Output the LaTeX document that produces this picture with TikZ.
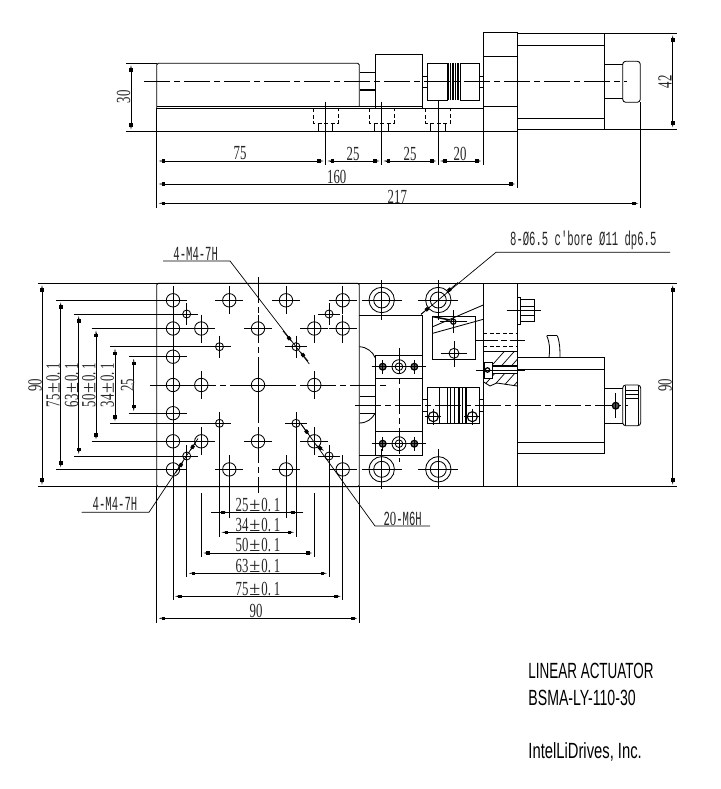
\documentclass[tikz,border=0pt]{standalone}
\usepackage{fontspec}
\usetikzlibrary{arrows.meta}
\newfontfamily\cadfont[FakeStretch=0.53]{Liberation Mono}
\newfontfamily\cadnum[FakeStretch=0.64]{Liberation Serif}
\newfontfamily\cadsym{Liberation Serif}
\newfontfamily\titlefont[FakeStretch=0.6]{Liberation Sans}
\newcommand\pmwide{{\cadsym\kern1pt ±\kern1pt}}
\newcommand\tol[1]{#1\pmwide 0.\kern3pt 1}
\newcommand\zerodigit{{\cadnum 0}}
\tikzset{
  base/.style={line width=0.85pt,black},
  thin line/.style={line width=0.7pt},
  thick bar/.style={line width=1.5pt},
  centre/.style={line width=0.7pt,dash pattern=on 26pt off 4pt on 6pt off 4pt},
  hidden/.style={line width=0.7pt,dash pattern=on 4pt off 2.5pt},
  dimtip/.tip={Rectangle[length=3.4pt,width=3.4pt,sep=0pt]Triangle[length=5pt,width=1pt]},
  dim/.style={line width=0.75pt,{dimtip}-{dimtip}},
  dimend/.style={line width=0.75pt,-{dimtip}},
  cadtext/.style={font=\cadfont\fontsize{20}{20}\selectfont,inner sep=0pt,text=black!85},
  numtext/.style={font=\cadnum\fontsize{20}{20}\selectfont,inner sep=0pt,text=black!85},
  vtext/.style={numtext,rotate=90},
  title/.style={font=\titlefont\fontsize{22}{22}\selectfont,inner sep=0pt,anchor=west,text=black},
}
\newcommand\bighole[2]{\draw (#1,#2) circle[radius=6.7pt];
  \draw[thin line] (#1-14,#2) -- (#1+14,#2) (#1,#2-14) -- (#1,#2+14);}
\newcommand\smallhole[2]{\draw (#1,#2) circle[radius=4pt];
  \draw[thin line] (#1-11,#2) -- (#1+11,#2) (#1,#2-11) -- (#1,#2+11);}
\newcommand\cbore[2]{\draw (#1,#2) circle[radius=12.7pt] (#1,#2) circle[radius=8pt];
  \draw[thin line] (#1-20,#2) -- (#1+20,#2) (#1,#2-20) -- (#1,#2+20);}
\newcommand\darkhole[2]{\draw[line width=1.2pt,fill=black!60] (#1,#2) circle[radius=3.4pt];
  \draw[thin line] (#1-11,#2) -- (#1+11,#2) (#1,#2-7) -- (#1,#2+7);}
\newcommand\boltside[1]{\draw[hidden] (#1-12.5,108.3) -- (#1-12.5,123.3) -- (#1+12.5,123.3) -- (#1+12.5,108.3);
  \draw[thin line] (#1-7.3,123.3) -- (#1-7.3,131.5) (#1+7.3,123.3) -- (#1+7.3,131.5);}
\begin{document}
\begin{tikzpicture}[x=1pt,y=-1pt,base]
\useasboundingbox (0,0) rectangle (720,789);
\fill[white] (0,0) rectangle (720,789);

%% ---------- TOP (SIDE) VIEW ----------
\draw[rounded corners=1.5pt] (156.7,108) -- (156.7,63.3) -- (359.3,63.3) -- (359.3,106.7);
\draw (156.7,106.7) -- (375.3,106.7) (375.3,106.7) -- (422.7,106.7);
\draw (156.7,108.3) -- (483.3,108.3);
\draw (156.7,108) -- (156.7,131.5);
\draw (126,131.5) -- (517.3,131.5);
\draw (126,63.3) -- (156.7,63.3);
\draw[thick bar] (360,72.7) -- (375.3,72.7) (360,90) -- (375.3,90);
\draw (375.3,108.3) -- (375.3,54.3) -- (422.7,54.3) -- (422.7,108.3);
% coupling
\draw (447.3,63.3) -- (427.3,63.3) -- (427.3,100) -- (447.3,100) -- cycle;
\draw (460,63.3) -- (479.7,63.3) -- (479.7,100) -- (460,100) -- cycle;
\foreach \sx in {448,450.5,453,455.5,458} \draw[thick bar] (\sx,63.3) -- (\sx,100.5);
\draw[thin line] (422.7,76.7) -- (427.3,76.7) (422.7,87.7) -- (427.3,87.7) (479.7,76.7) -- (483.3,76.7) (479.7,87.7) -- (483.3,87.7);
% plate and motor
\draw (483.3,32.3) rectangle (517.3,131.5);
\draw (483.3,56) -- (517.3,56) (483.3,106.7) -- (517.3,106.7);
\draw (517.3,33.3) rectangle (604.3,129.3);
\draw (517.3,45) -- (604.3,45) (517.3,118.3) -- (604.3,118.3);
\draw (604.3,64.3) -- (622.7,64.3) (604.3,98.3) -- (622.7,98.3);
\draw[rounded corners=3pt] (622.7,61.3) rectangle (640.3,102.3);
\draw[centre] (144,81.3) -- (627,81.3);
\boltside{325.5} \boltside{381.5} \boltside{438}
% dimensions
\draw[thin line] (325.5,101.7) -- (325.5,165) (381.5,101.7) -- (381.5,165) (438.3,100) -- (438.3,165);
\draw[thin line] (156.7,131.5) -- (156.7,208) (483.3,131.5) -- (483.3,165) (517.3,131.5) -- (517.3,188) (640.3,102.3) -- (640.3,208);
\draw[thin line] (604.3,33.3) -- (677,33.3) (604.3,129.3) -- (677,129.3);
\draw[dim] (131,63.3) -- (131,131.5);
\draw[dim] (672.7,33.3) -- (672.7,129.3);
\draw[dim] (156.7,161) -- (325.5,161);
\draw[dim] (325.5,161) -- (381.5,161);
\draw[dim] (381.5,161) -- (438.3,161);
\draw[dim] (438.3,161) -- (483.3,161);
\draw[dim] (156.7,184) -- (517.3,184);
\draw[dim] (156.7,203.3) -- (640.3,203.3);
\node[vtext] (t30) at (123.5,97) {30};
\node[vtext] (t42) at (665,81.7) {42};
\node[numtext] (t75a) at (240,153.5) {75};
\node[numtext] (t25a) at (353,153.5) {25};
\node[numtext] (t25b) at (410,153.5) {25};
\node[numtext] (t20) at (460,153.5) {20};
\node[numtext] (t160) at (336.7,176.5) {160};
\node[numtext] (t217) at (397.3,197) {217};

%% ---------- PLAN VIEW ----------
\draw[rounded corners=1.5pt] (156.7,283.3) rectangle (359.3,486.7);
\draw (38,283.3) -- (677,283.3) (38,486.7) -- (677,486.7);
% long centre and extension lines
\draw[centre] (258,277) -- (258,493);
\draw[centre] (150,385) -- (386,385);
\draw[thin line] (173,287) -- (173,486.7);
% large holes
\foreach \hx/\hy in {173/300.3,229.3/300.3,286/300.3,342.7/300.3,
  173/328.5,201.3/328.5,258/328.5,314.3/328.5,342.7/328.5,
  173/356.7,
  173/385,201.3/385,258/385,314.3/385,
  173/413.2,
  173/441.3,201.3/441.3,258/441.3,314.3/441.3,
  173/469.4,229.3/469.4,286/469.4,342.7/469.4}
  {\bighole{\hx}{\hy}}
% small holes
\foreach \hx/\hy in {186.7/314,219.5/346.7,296/346.7,329/314,219.5/423.3,296/423.3,186.7/456,329/456}
  {\smallhole{\hx}{\hy}}
% left extension lines
\draw[thin line] (56,300.3) -- (187,300.3) (74,314) -- (197,314) (91.7,328.5) -- (173,328.5)
  (110,346.7) -- (231,346.7) (129,356.7) -- (187,356.7) (129,413.2) -- (187,413.2)
  (110,423.3) -- (231,423.3) (91.7,441.3) -- (215,441.3) (74,456) -- (197,456) (56,469.4) -- (187,469.4);
% left dimensions
\draw[dim] (42,283.3) -- (42,486.7);
\draw[dim] (60.7,300.3) -- (60.7,469.4);
\draw[dim] (78.7,314) -- (78.7,456);
\draw[dim] (96,328.5) -- (96,441.3);
\draw[dim] (115,346.7) -- (115,423.3);
\draw[dim] (133.7,356.7) -- (133.7,413.2);
\node[vtext] (l90) at (35,385) {90};
\node[vtext] (l75) at (53,385) {\tol{75}};
\node[vtext] (l63) at (71.7,385) {\tol{63}};
\node[vtext] (l50) at (88.8,385) {\tol{50}};
\node[vtext] (l34) at (107.3,385) {\tol{34}};
\node[vtext] (l25) at (127.7,385) {25};
% bottom extension lines
\draw[thin line] (156.7,486.7) -- (156.7,623.3) (359.3,486.7) -- (359.3,623.3);
\draw[thin line] (173,486.7) -- (173,600) (342.7,483) -- (342.7,600);
\draw[thin line] (186.7,445) -- (186.7,577) (329,445) -- (329,577);
\draw[thin line] (201.3,493) -- (201.3,557) (314.3,493) -- (314.3,557);
\draw[thin line] (219.5,412) -- (219.5,537) (296,412) -- (296,537);
\draw[thin line] (229.3,455) -- (229.3,518) (286,455) -- (286,518);
% bottom dimensions
\draw[dim] (156.7,618.3) -- (359.3,618.3);
\draw[dim] (173,596.3) -- (342.7,596.3);
\draw[dim] (186.7,573.3) -- (329,573.3);
\draw[dim] (201.3,553) -- (314.3,553);
\draw[dim] (219.5,532.3) -- (296,532.3);
\draw[thin line] (211,512.3) -- (303.3,512.3);
\coordinate (d25l) at (229.3,512.3);
\coordinate (d25r) at (286,512.3);
\draw[dimend] (211,512.3) -- (d25l);
\draw[dimend] (303.3,512.3) -- (d25r);
\node[numtext] (b90) at (256,611) {90};
\node[numtext] (b75) at (258,589) {\tol{75}};
\node[numtext] (b63) at (258,566) {\tol{63}};
\node[numtext] (b50) at (258,545.3) {\tol{50}};
\node[numtext] (b34) at (258,525) {\tol{34}};
\node[numtext] (b25) at (258,505) {\tol{25}};
% leaders
\node[cadtext] (lead1) at (195.7,254) {4-M4-7H};
\draw[thin line] (163,261) -- (230,261) -- (309.3,364);
\draw[dimend] (283,331) -- (293.3,343.3);
\draw[dimend] (308,361) -- (298.7,350);
\node[cadtext] (lead2) at (115,504) {4-M4-7H};
\draw[thin line] (81.7,512.3) -- (149,512.3) -- (195,443);
\draw[dimend] (198,438.5) -- (189,452.5);
\draw[dimend] (175.5,473) -- (184.5,459.5);
\node[cadtext] (lead3) at (402.7,519.3) {2\zerodigit-M6H};
\draw[thin line] (430,526) -- (375,526) -- (301.7,425);
\draw[dimend] (301,424) -- (310.5,437);
\draw[dimend] (316,445) -- (325.5,452);

%% ---------- RIGHT PART OF PLAN ----------
\draw (483.3,283.3) -- (483.3,486.7) (517.3,283.3) -- (517.3,486.7);
\foreach \hx/\hy in {381.7/300,438.3/300,381.7/469.3,438.3/469.3} {\cbore{\hx}{\hy}}
\draw (359.3,315) -- (422.7,315) -- (422.7,455) -- (359.3,455);
\draw (375.3,355.7) -- (422.7,355.7) (375.3,378.3) -- (422.7,378.3) (375.3,431.7) -- (422.7,431.7);
\draw (375.3,355.7) -- (375.3,455);
\draw (359.3,346.7) .. controls (367,347) and (373,352) .. (375.3,358);
\draw (375.3,413) .. controls (372,419) and (367,423) .. (359.3,423);
\draw[thick bar] (360,396.7) -- (375.3,396.7) (360,413.3) -- (375.3,413.3);
\foreach \hy in {366.7,443.7}{
  \darkhole{382.7}{\hy} \darkhole{414.3}{\hy}
  \draw (399,\hy) circle[radius=7pt] (399,\hy) circle[radius=3.8pt];
  \draw[thin line] (371.7,\hy) -- (426,\hy);
}
\draw[centre] (399,348) -- (399,461.7);
% slanted block
\draw (432.3,316.7) rectangle (475.7,359.3);
\draw (432.7,326.7) -- (483.3,305) (432.7,333.3) -- (483.3,319.3);
\draw[thick bar] (433.3,316.7) -- (450,320);
\draw[line width=1.2pt] (453.3,321.7) circle[radius=2.6pt];
\draw[thin line] (440,321.7) -- (466.7,321.7) (453.3,310) -- (453.3,333);
\draw (454,353.3) circle[radius=5pt];
\draw[thin line] (440.7,353.3) -- (466.7,353.3) (454,341) -- (454,366.7);
\draw[centre,dash pattern=on 22pt off 3pt on 6pt off 3pt] (475.7,340) -- (525,340);
\draw[hidden] (483.3,333.3) -- (517.3,333.3) (483.3,346.7) -- (517.3,346.7);
% section with hatch
\draw (483.3,351) -- (517.3,351);
\draw (483.3,381.7) -- (490,386) -- (496.7,383) -- (517.3,386);
\begin{scope}
  \clip (483.3,351) rectangle (517.3,366) (483.3,373.3) rectangle (517.3,388);
  \clip (483.3,351) -- (517.3,351) -- (517.3,386) -- (496.7,383) -- (490,386) -- (483.3,381.7) -- cycle;
  \foreach \hk in {0,...,7}
    \draw[thin line] (470+\hk*10,390) -- (510+\hk*10,345);
\end{scope}
\fill[white] (484,362.7) rectangle (492,378);
\draw (484,362.7) rectangle (492,378);
\draw[line width=1.3pt] (487.5,370) circle[radius=2.2pt];
\draw[thick bar] (492,366) -- (517.3,366) (492,373.3) -- (517.3,373.3);
\draw[thin line] (476,370) -- (525,370);
% coupling, plan
\draw (427.3,387.3) rectangle (479.3,423.3);
\draw[thin line] (422.7,399) -- (427.3,399) (422.7,411) -- (427.3,411) (479.3,399) -- (483.3,399) (479.3,411) -- (483.3,411);
\foreach \sx in {439.3,447.3,450.5,454.3,459,462.7,466} \draw[line width=1.1pt] (\sx,387.3) -- (\sx,423.3);
\draw[centre] (355,405) -- (628,405);
\foreach \hx in {433.3,472.3}{
  \draw[line width=1.1pt] (\hx,416.7) circle[radius=5pt];
  \draw[thin line] (\hx-8,416.7) -- (\hx+8,416.7) (\hx,408.7) -- (\hx,424.7);
}
% hex bolt
\draw (520,299.3) rectangle (534,321.7);
\draw (517.7,297.3) rectangle (520,324);
\draw[thin line] (520,306.7) -- (534,306.7) (520,315) -- (534,315);
\draw[thin line] (506.7,310.3) -- (540.7,310.3);
% motor, plan
\draw (517.3,357.3) rectangle (604.7,453.7);
\draw (517.3,369.3) -- (604.7,369.3) (517.3,442.3) -- (604.7,442.3);
\draw (604.7,388.3) -- (622.7,388.3) (604.7,423.3) -- (622.7,423.3);
\draw[rounded corners=3pt] (622.7,385) rectangle (640.7,425.7);
\draw[thin line] (625,386) -- (625,425) (638,386) -- (638,425);
\draw[thin line] (625,390.7) -- (638,390.7) (625,394.5) -- (638,394.5) (625,398) -- (638,398);
\draw[line width=1.2pt,fill=black!70] (615.7,405.7) circle[radius=3.4pt];
\draw[thin line] (615.7,393) -- (615.7,417.7);
% cable
\draw (546.7,335.7) -- (557.3,335.7);
\draw (546.7,335.7) .. controls (550,343) and (550,350) .. (549,357.3);
\draw (557.3,335.7) .. controls (560,343) and (560,350) .. (560,357.3);
% right dimension
\draw[dim] (672.7,283.3) -- (672.7,486.7);
\node[vtext] (r90) at (665,385) {90};
% leader
\node[cadtext] (lead4) at (583.3,240.7) {8-Ø6.5 c'bore Ø11 dp6.5};
\draw[thin line] (670,252.3) -- (496,252.3) -- (421,314.3);
\draw[dimend] (458,282.5) -- (444.5,294);
\draw[dimend] (421,314.3) -- (432,305);

%% ---------- TITLE ----------
\node[title] (t1) at (528,671) {\scalebox{1.02}[1]{LINEAR ACTUATOR}};
\node[title] (t2) at (528,698) {\scalebox{1.07}[1]{BSMA-LY-110-30}};
\node[title] (t3) at (528,752) {\scalebox{1.12}[1]{IntelLiDrives, Inc.}};
\end{tikzpicture}
\end{document}
